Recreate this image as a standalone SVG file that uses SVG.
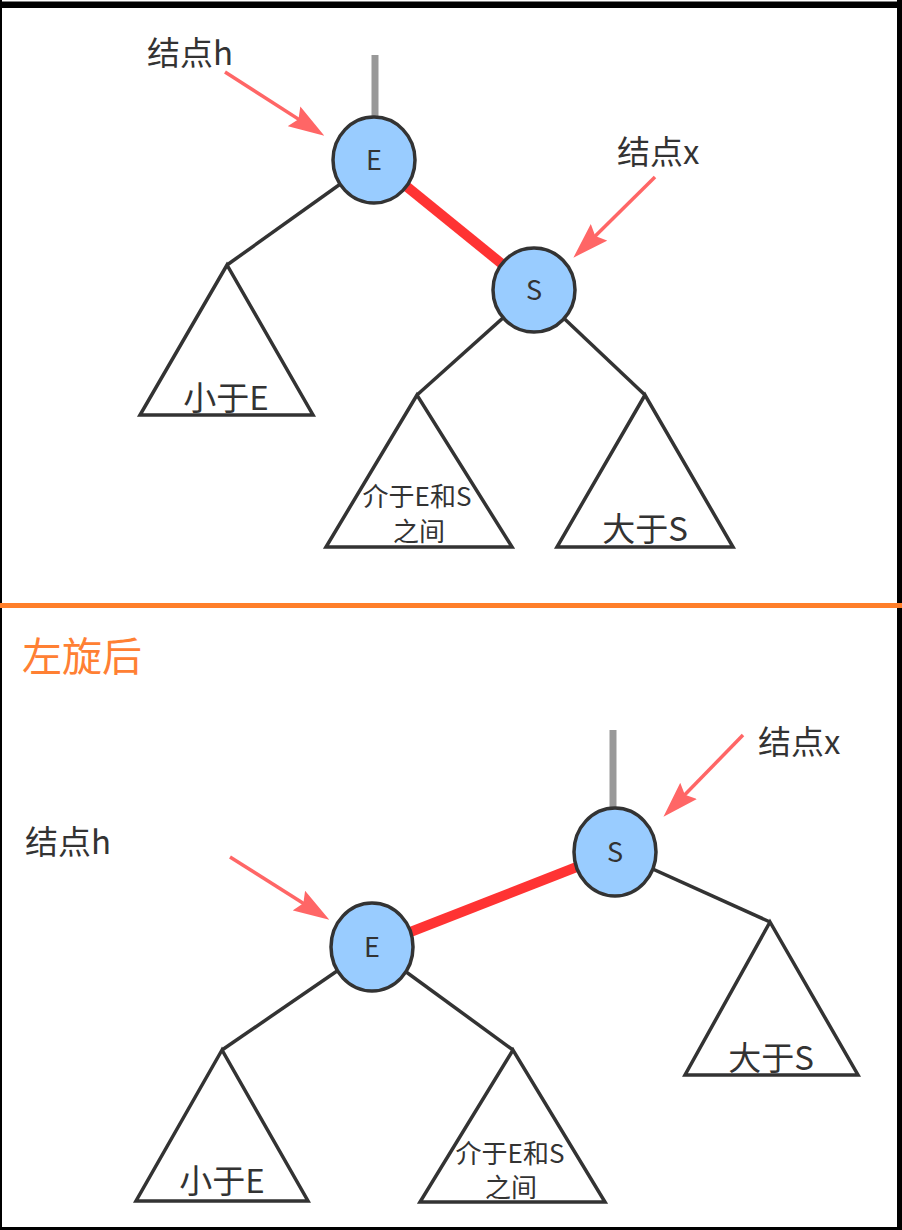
<svg xmlns="http://www.w3.org/2000/svg" width="902" height="1230" viewBox="0 0 902 1230">
<style>
.lbl{font-family:"Noto Sans CJK SC","Noto Sans",sans-serif;fill:#333;}
.big{font-size:33px;}
.mid{font-size:26px;}
.nd{font-family:"Noto Sans CJK SC","Noto Sans",sans-serif;font-size:27px;fill:#333;text-anchor:middle;}
.circ{fill:#99ccff;stroke:#333;stroke-width:3.5;}
.tri{fill:none;stroke:#333;stroke-width:3.5;stroke-linejoin:miter;}
.edge{stroke:#333;stroke-width:3.5;fill:none;}
.hot{stroke:#ff3333;stroke-width:10;fill:none;}
.stub{stroke:#999;stroke-width:7;fill:none;}
.ptr{stroke:#ff6666;stroke-width:3.5;fill:none;marker-end:url(#ah);}
</style>
<defs>
<marker id="ah" markerUnits="userSpaceOnUse" markerWidth="36" markerHeight="24" viewBox="0 0 34 22" refX="15" refY="11" orient="auto">
<path d="M0,0 L34,11 L0,22 L5,11 z" fill="#ff6666"/>
</marker>
</defs>
<rect x="0" y="0" width="902" height="1230" fill="#fff"/>
<g id="frame">
<rect x="0" y="1.5" width="902" height="6.5" fill="#000"/>
<rect x="0" y="0" width="2" height="1230" fill="#000"/>
<rect x="897" y="0" width="5" height="1230" fill="#000"/>
<rect x="0" y="1227" width="902" height="3" fill="#000"/>
</g>
<rect id="divider" x="0" y="603" width="902" height="5" fill="#ff7f2a"/>
<text id="title" x="22" y="671" font-family="Noto Sans CJK SC, Noto Sans, sans-serif" font-size="40" fill="#ff8033">左旋后</text>

<g id="connectors">
<line class="stub" x1="375" y1="55" x2="375" y2="120"/>
<line class="stub" x1="613" y1="730" x2="613" y2="811"/>
<line class="hot" x1="374" y1="160" x2="534" y2="290"/>
<line class="hot" x1="372" y1="947" x2="615" y2="852"/>
<line class="edge" x1="374" y1="160" x2="227" y2="265"/>
<line class="edge" x1="534" y1="290" x2="417" y2="395"/>
<line class="edge" x1="534" y1="290" x2="645" y2="395"/>
<line class="edge" x1="615" y1="852" x2="770" y2="922"/>
<line class="edge" x1="372" y1="947" x2="222" y2="1050"/>
<line class="edge" x1="372" y1="947" x2="513" y2="1050"/>
<line class="ptr" x1="225" y1="72" x2="307.4" y2="124.9"/>
<line class="ptr" x1="655" y1="177" x2="587.7" y2="243.5"/>
<line class="ptr" x1="743" y1="735" x2="677.5" y2="802.3"/>
<line class="ptr" x1="230" y1="857" x2="312.3" y2="909"/>
</g>

<g id="top-E"><ellipse class="circ" cx="374" cy="160" rx="41" ry="43"/><text class="nd" x="374" y="170">E</text></g>
<g id="top-S"><ellipse class="circ" cx="534" cy="290" rx="41" ry="42"/><text class="nd" x="534" y="300">S</text></g>
<g id="bot-E"><ellipse class="circ" cx="372" cy="947" rx="41" ry="44"/><text class="nd" x="372" y="957">E</text></g>
<g id="bot-S"><ellipse class="circ" cx="615" cy="852" rx="41" ry="44"/><text class="nd" x="615" y="862">S</text></g>

<g id="top-lessE"><polygon class="tri" points="227,265 140,415 313,415"/><text class="lbl big" x="226" y="410" text-anchor="middle">小于E</text></g>
<g id="top-between"><polygon class="tri" points="417,395 326,547 512,547"/><text class="lbl mid" x="417" y="506" text-anchor="middle">介于E和S</text><text class="lbl mid" x="419" y="541" text-anchor="middle">之间</text></g>
<g id="top-greaterS"><polygon class="tri" points="645,395 557,547 733,547"/><text class="lbl big" x="645" y="541" text-anchor="middle">大于S</text></g>

<g id="bot-lessE"><polygon class="tri" points="222,1050 136,1201 308,1201"/><text class="lbl big" x="222" y="1193" text-anchor="middle">小于E</text></g>
<g id="bot-between"><polygon class="tri" points="513,1050 420,1202 605,1202"/><text class="lbl mid" x="510" y="1163" text-anchor="middle">介于E和S</text><text class="lbl mid" x="511" y="1197" text-anchor="middle">之间</text></g>
<g id="bot-greaterS"><polygon class="tri" points="770,922 685,1075 858,1075"/><text class="lbl big" x="771" y="1070" text-anchor="middle">大于S</text></g>

<g id="labels">
<text class="lbl big" x="147" y="65">结点h</text>
<text class="lbl big" x="617" y="164">结点x</text>
<text class="lbl big" x="758" y="754">结点x</text>
<text class="lbl big" x="25" y="854">结点h</text>
</g>
</svg>
